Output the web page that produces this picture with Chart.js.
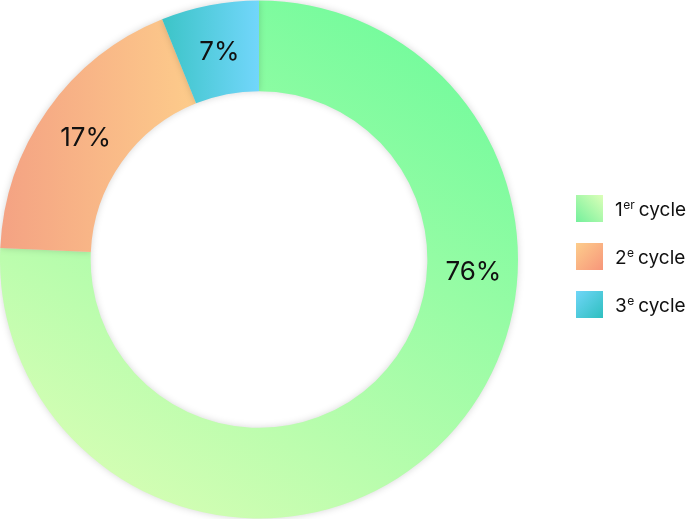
<!DOCTYPE html>
<html>
<head>
<meta charset="utf-8">
<style>
  html, body { margin: 0; padding: 0; background: #fff; }
  #wrap { width: 692px; height: 519px; }
</style>
<script src="https://cdn.jsdelivr.net/npm/chart.js@4/dist/chart.umd.min.js"></script>
</head>
<body>
<div id="wrap"><canvas id="myChart"></canvas></div>
<script>
// donnees
var CYCLES = ['1', '2', '3'];
var CYCLE_SUP = ['er', 'e', 'e'];
var SHARES = [75.7, 18.2, 6.1];
var PCT_LABELS = ['76%', '17%', '7%'];

var FONT = 'Inter, "Open Sans", sans-serif';

// couleurs des degradés (debut, fin)
var RING_COLORS = [
  ['#72fb9c', '#defeb6'],
  ['#f4a283', '#fdcc8b'],
  ['#3bc4c6', '#72d6fb']
];
var BOX_COLORS = [
  ['#dcffb8', '#74f09c'],
  ['#fdcd8c', '#f7967a'],
  ['#70d6f8', '#2ebfbf']
];

function ringGradient(ctx) {
  var chart = ctx.chart;
  var a = chart.chartArea;
  var c = RING_COLORS[ctx.dataIndex];
  if (!a) return c[0];
  var g;
  if (ctx.dataIndex === 0) {
    g = chart.ctx.createLinearGradient(a.left + a.width * 0.75, a.top, a.left + a.width * 0.1, a.bottom);
  } else if (ctx.dataIndex === 1) {
    g = chart.ctx.createLinearGradient(a.left, 0, a.left + a.width * 0.38, 0);
  } else {
    g = chart.ctx.createLinearGradient(a.left + a.width * 0.31, 0, a.left + a.width * 0.5, 0);
  }
  g.addColorStop(0, c[0]);
  g.addColorStop(1, c[1]);
  return g;
}

var shadowPlugin = {
  id: 'ringShadow',
  beforeDatasetsDraw: function(chart) {
    var ctx = chart.ctx;
    ctx.save();
    ctx.shadowColor = 'rgba(0,0,0,0.16)';
    ctx.shadowBlur = 7;
  },
  afterDatasetsDraw: function(chart) {
    chart.ctx.restore();
  }
};

var labelPlugin = {
  id: 'pctLabels',
  afterDatasetsDraw: function(chart) {
    var ctx = chart.ctx;
    var meta = chart.getDatasetMeta(0);
    var total = SHARES.reduce(function(s, v){ return s + v; }, 0);
    ctx.save();
    ctx.font = '400 26px ' + FONT;
    ctx.fillStyle = '#111';
    ctx.textAlign = 'center';
    ctx.textBaseline = 'middle';
    meta.data.forEach(function(arc, i) {
      var p = arc.getProps(['x', 'y', 'startAngle', 'endAngle', 'innerRadius', 'outerRadius'], true);
      var ang = (p.startAngle + p.endAngle) / 2;
      if (SHARES[i] / total > 0.5) ang = 0.05;
      var r = (p.innerRadius + p.outerRadius) / 2;
      ctx.fillText(PCT_LABELS[i], p.x + r * Math.cos(ang) + 1, p.y + r * Math.sin(ang) + 2);
    });
    ctx.restore();
  }
};

var legendPlugin = {
  id: 'cycleLegend',
  afterDraw: function(chart) {
    var ctx = chart.ctx;
    var x0 = 576, y0 = 195, size = 27, step = 48;
    ctx.save();
    CYCLES.forEach(function(num, i) {
      var y = y0 + i * step;
      var c = BOX_COLORS[i];
      var g;
      if (i === 0) g = ctx.createLinearGradient(x0 + size, y, x0, y + size);
      else g = ctx.createLinearGradient(x0, y, x0 + size, y + size);
      g.addColorStop(0, c[0]);
      g.addColorStop(1, c[1]);
      ctx.fillStyle = g;
      ctx.fillRect(x0, y, size, size);

      var tx = 615, ty = y + 21;
      ctx.fillStyle = '#111';
      ctx.textBaseline = 'alphabetic';
      ctx.textAlign = 'left';
      ctx.font = '400 19px ' + FONT;
      ctx.fillText(num, tx, ty);
      tx += ctx.measureText(num).width + 0.5;
      ctx.font = '400 12px ' + FONT;
      ctx.fillText(CYCLE_SUP[i], tx, ty - 7);
      tx += ctx.measureText(CYCLE_SUP[i]).width + 4;
      ctx.font = '400 19px ' + FONT;
      ctx.fillText('cycle', tx, ty);
    });
    ctx.restore();
  }
};

var chart = new Chart(document.getElementById('myChart').getContext('2d'), {
  type: 'doughnut',
  data: {
    labels: CYCLES.map(function(n, i){ return n + CYCLE_SUP[i] + ' cycle'; }),
    datasets: [{
      data: SHARES,
      backgroundColor: ringGradient,
      borderWidth: 0
    }]
  },
  options: {
    responsive: true,
    maintainAspectRatio: false,
    animation: false,
    cutout: '65%',
    layout: { padding: { left: 0, right: 174, top: 0, bottom: 0 } },
    plugins: {
      legend: { display: false },
      tooltip: { enabled: false }
    }
  },
  plugins: [shadowPlugin, labelPlugin, legendPlugin]
});
</script>
</body>
</html>
